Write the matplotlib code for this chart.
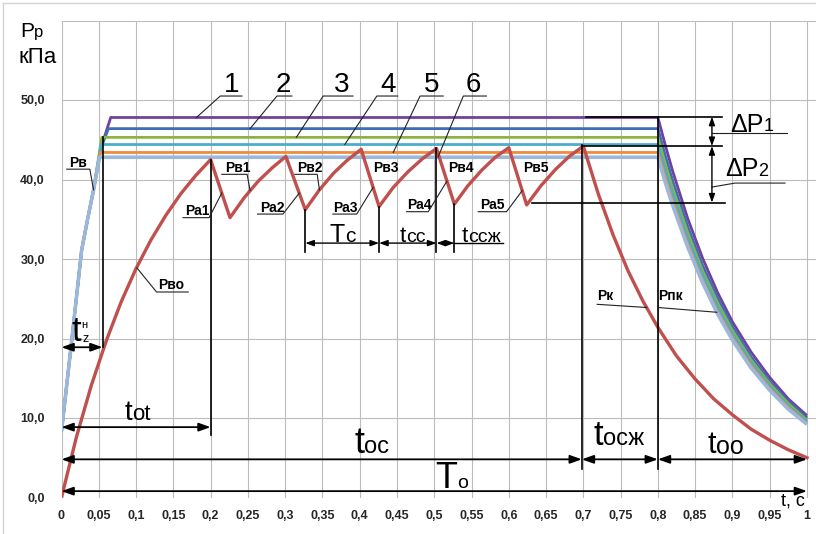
import matplotlib
matplotlib.use("Agg")
import matplotlib.pyplot as plt
from matplotlib.lines import Line2D

plt.rcParams['font.family'] = ['Liberation Sans', 'DejaVu Sans']

# curves 1..6 (Рв / Рпк), colours
line_colors = ['#7041A0', '#3E6FB3', '#8AB445', '#4AAEC8', '#F08A3C', '#9BB7DC']

# common rising part, t in s, P in kPa
rise_t = [0, 0.014, 0.027, 0.035, 0.043]
rise_p = [8.3, 20.0, 31.1, 35.0, 38.7]
# own corner of every curve before the plateau
corner_t = [[0.053, 0.066], [0.053, 0.063], [0.054], [0.053], [0.052], [0.051]]
corner_p = [[44.0, 47.8], [44.0, 46.4], [45.3], [44.4], [43.4], [42.8]]

# fall after t = 0.8 s
decay_t = [0.8, 0.81, 0.82, 0.84, 0.86, 0.88, 0.9, 0.925, 0.95, 0.975, 1.0]
decay_p = [
    [47.8, 44.3, 41.0, 35.1, 30.1, 25.8, 22.1, 18.3, 15.1, 12.4, 10.3],
    [46.4, 43.0, 39.8, 34.1, 29.2, 25.1, 21.5, 17.7, 14.6, 12.1, 10.0],
    [45.3, 41.9, 38.8, 33.3, 28.5, 24.5, 21.0, 17.3, 14.3, 11.8, 9.7],
    [44.4, 41.1, 38.1, 32.6, 28.0, 24.0, 20.6, 17.0, 14.0, 11.5, 9.5],
    [43.4, 40.2, 37.2, 31.9, 27.3, 23.4, 20.1, 16.6, 13.7, 11.3, 9.3],
    [42.8, 39.6, 36.7, 31.5, 27.0, 23.1, 19.8, 16.3, 13.5, 11.1, 9.2],
]

# Рво -> saw (Рв1..Рв5 / Ра1..Ра5) -> Рк
red_t = [0, 0.02, 0.04, 0.06, 0.08, 0.10, 0.12, 0.14, 0.16, 0.18, 0.20,
         0.226, 0.245, 0.264, 0.283, 0.301,
         0.327, 0.346, 0.365, 0.383, 0.402,
         0.426, 0.445, 0.465, 0.484, 0.503,
         0.527, 0.545, 0.564, 0.582, 0.600,
         0.624, 0.643, 0.662, 0.681, 0.700,
         0.72, 0.74, 0.76, 0.78, 0.80, 0.825, 0.85, 0.875, 0.90, 0.925, 0.95, 0.975, 1.0]
red_p = [0, 7.6, 14.1, 19.7, 24.6, 28.8, 32.4, 35.5, 38.2, 40.5, 42.5,
         35.2, 37.7, 39.8, 41.5, 42.9,
         36.2, 38.7, 40.8, 42.4, 43.8,
         36.6, 39.0, 41.0, 42.6, 43.9,
         36.9, 39.2, 41.2, 42.8, 44.0,
         36.8, 39.2, 41.2, 42.9, 44.2,
         38.2, 33.0, 28.5, 24.7, 21.4, 17.8, 14.9, 12.4, 10.4, 8.6, 7.2, 6.0, 5.0]

x_ticks = [round(i * 0.05, 2) for i in range(21)]
y_ticks = [0, 10, 20, 30, 40, 50, 60]


def arrow(ax, a, b, head=0.7, width=0.25, lw=1.3):
    ax.annotate('', xy=b, xytext=a,
                arrowprops=dict(arrowstyle='<|-|>,head_length=%s,head_width=%s' % (head, width),
                                color='black', lw=lw, mutation_scale=10,
                                shrinkA=0, shrinkB=0))


def sub_label(ax, x, y, head, tail, s1, s2):
    # big letter + smaller tail sitting on the same baseline
    t = ax.text(x, y, head, fontsize=s1, ha='left', va='baseline')
    ax.annotate(tail, xy=(1, 0), xycoords=t, xytext=(0, 0.21 * (s1 - s2)),
                textcoords='offset points', fontsize=s2, ha='left', va='bottom')
    return t


fig = plt.figure(figsize=(8.16, 5.34), dpi=100)
ax = fig.add_axes([61.5 / 816, 1 - 497.5 / 534, (816 - 61.5) / 816, (497.5 - 20.5) / 534])
ax.set_xlim(0, 1.0121)
ax.set_ylim(0, 60)

ax.set_xticks(x_ticks)
ax.set_xticklabels([('%g' % v).replace('.', ',') for v in x_ticks])
ax.set_yticks(y_ticks)
ax.set_yticklabels([('%.1f' % v).replace('.', ',') if v < 60 else '' for v in y_ticks])
ax.tick_params(length=0, labelsize=9, labelcolor='#262626')
ax.tick_params(axis='x', pad=9)
ax.tick_params(axis='y', pad=12)
for lbl in ax.get_xticklabels() + ax.get_yticklabels():
    lbl.set_fontweight('bold')
ax.grid(True, color='#bcbcbc', lw=0.8)
ax.yaxis.get_gridlines()[0].set_visible(False)
ax.set_axisbelow(True)
for s in ax.spines.values():
    s.set_visible(False)

# curves 1..6
for k in range(6):
    tt = rise_t + corner_t[k] + decay_t
    pp = rise_p + corner_p[k] + decay_p[k]
    ax.plot(tt, pp, color=line_colors[k], lw=2.0 if k < 5 else 2.6, solid_capstyle='butt')

ax.plot(red_t, red_p, color='#C0504D', lw=2.4)

# construction lines
guides = [(0.055, 18.9, 45.3), (0.2, 7.9, 42.5), (0.327, 30.9, 36.2), (0.426, 30.9, 36.6),
          (0.503, 30.9, 44.0), (0.527, 30.9, 36.9), (0.698, 3.6, 44.3), (0.8, 3.6, 47.9)]
for t, p0, p1 in guides:
    ax.plot([t, t], [p0, p1], color='black', lw=1.2)
for p, t0, t1 in [(47.9, 0.703, 0.886), (44.2, 0.698, 0.886), (37.1, 0.631, 0.89)]:
    ax.plot([t0, t1], [p, p], color='black', lw=1.2)

# dimension arrows
arrow(ax, (0, 18.9), (0.055, 18.9))
arrow(ax, (0, 8.85), (0.2, 8.85))
arrow(ax, (0, 4.8), (0.698, 4.8))
arrow(ax, (0.698, 4.8), (0.8, 4.8))
arrow(ax, (0.8, 4.8), (1.0, 4.8))
arrow(ax, (0, 0.8), (1.0, 0.8))
arrow(ax, (0.327, 32.0), (0.426, 32.0), 0.5, 0.18, 1.0)
arrow(ax, (0.426, 32.0), (0.503, 32.0), 0.5, 0.18, 1.0)
arrow(ax, (0.503, 32.0), (0.527, 32.0), 0.5, 0.18, 1.0)
ax.plot([0.527, 0.592], [32.0, 32.0], color='black', lw=1.0)
arrow(ax, (0.8725, 47.9), (0.8725, 44.2), 0.5, 0.18, 1.0)
arrow(ax, (0.8725, 44.2), (0.8725, 37.1), 0.5, 0.18, 1.0)

# numbered curves with leaders
num_pos = [0.228, 0.2975, 0.376, 0.4385, 0.497, 0.552]
leaders_num = [([0.181, 0.213, 0.242], [47.8, 50.5, 50.5]),
               ([0.253, 0.289, 0.309], [46.4, 50.5, 50.5]),
               ([0.315, 0.351, 0.391], [45.3, 50.5, 50.5]),
               ([0.380, 0.423, 0.451], [44.4, 50.5, 50.5]),
               ([0.445, 0.481, 0.512], [43.4, 50.5, 50.5]),
               ([0.505, 0.539, 0.570], [42.8, 50.5, 50.5])]
for i, (x, (lt, lp)) in enumerate(zip(num_pos, leaders_num)):
    ax.text(x, 51.0, str(i + 1), fontsize=20, ha='center', va='baseline')
    ax.plot(lt, lp, color='#222222', lw=0.8)

# small pressure labels
small = [("Рв", 0.010, 41.6), ("Рв1", 0.219, 41.0), ("Ра1", 0.166, 35.5),
         ("Рв2", 0.316, 41.0), ("Ра2", 0.266, 35.9), ("Рв3", 0.4175, 41.0),
         ("Ра3", 0.364, 35.9), ("Рв4", 0.5185, 41.0), ("Ра4", 0.463, 36.25),
         ("Рв5", 0.619, 41.0), ("Ра5", 0.561, 36.25), ("Рво", 0.1295, 26.2),
         ("Рк", 0.718, 24.85), ("Рпк", 0.8, 24.85)]
for s, x, y in small:
    ax.text(x, y, s, fontsize=10, fontweight='bold', ha='left', va='baseline')
leaders = [([0.007, 0.038, 0.043], [41.3, 41.3, 38.7]),
           ([0.215, 0.249, 0.253], [40.65, 40.65, 38.6]),
           ([0.163, 0.198, 0.215], [35.2, 35.2, 38.3]),
           ([0.313, 0.343, 0.346], [40.65, 40.65, 38.7]),
           ([0.263, 0.297, 0.319], [35.65, 35.65, 38.3]),
           ([0.364, 0.396, 0.418], [35.65, 35.65, 39.0]),
           ([0.463, 0.492, 0.517], [35.95, 35.95, 39.8]),
           ([0.559, 0.597, 0.618], [35.95, 35.95, 38.6]),
           ([0.170, 0.1275, 0.101], [25.85, 25.85, 28.9]),
           ([0.7185, 0.785], [24.3, 23.9]),
           ([0.8, 0.879], [23.9, 23.3]),
           ([0.8725, 0.9732], [45.85, 45.85]),
           ([0.8725, 0.9035, 0.9705], [39.05, 39.55, 39.55])]
for lt, lp in leaders:
    ax.plot(lt, lp, color='#222222', lw=0.8)

# time intervals
sub_label(ax, 0.085, 9.75, "t", "оt", 20, 16)
sub_label(ax, 0.3924, 5.6, "t", "ос", 26, 17)
sub_label(ax, 0.713, 6.6, "t", "осж", 25, 17)
sub_label(ax, 0.867, 5.6, "t", "оо", 22, 18)
sub_label(ax, 0.501, 1.2, "T", "о", 26, 14)
sub_label(ax, 0.360, 32.2, "T", "с", 18, 15)
sub_label(ax, 0.454, 32.2, "t", "сс", 16, 14)
sub_label(ax, 0.537, 32.2, "t", "ссж", 16, 14)
sub_label(ax, 0.897, 46.0, "ΔP", "1", 18, 13)
sub_label(ax, 0.890, 40.4, "ΔP", "2", 18, 13)

tz = ax.text(0.0137, 19.7, "t", fontsize=25, ha='left', va='baseline')
ax.annotate("z", xy=(1, 0), xycoords=tz, xytext=(1, 0.21 * 16 - 1),
            textcoords='offset points', fontsize=9, ha='left', va='bottom')
ax.annotate("н", xy=(1, 1), xycoords=tz, xytext=(0, -3.5),
            textcoords='offset points', fontsize=8, ha='left', va='top')

ax.text(0.997, -0.95, "t, с", fontsize=13, ha='right', va='baseline', clip_on=False)

# axis title
fig.text(20 / 816, 1 - 37 / 534, "Р", fontsize=15, va='baseline')
fig.text(34 / 816, 1 - 37 / 534, "р", fontsize=12, va='baseline')
fig.text(18 / 816, 1 - 63 / 534, "кПа", fontsize=16, va='baseline')

# thin frame on the left and top
fig.add_artist(Line2D([3 / 816, 3 / 816], [0, 1 - 3 / 534], transform=fig.transFigure,
                      color='#d4d4d4', lw=1))
fig.add_artist(Line2D([3 / 816, 1], [1 - 3 / 534, 1 - 3 / 534], transform=fig.transFigure,
                      color='#d4d4d4', lw=1))

fig.savefig('out.png', dpi=100)
